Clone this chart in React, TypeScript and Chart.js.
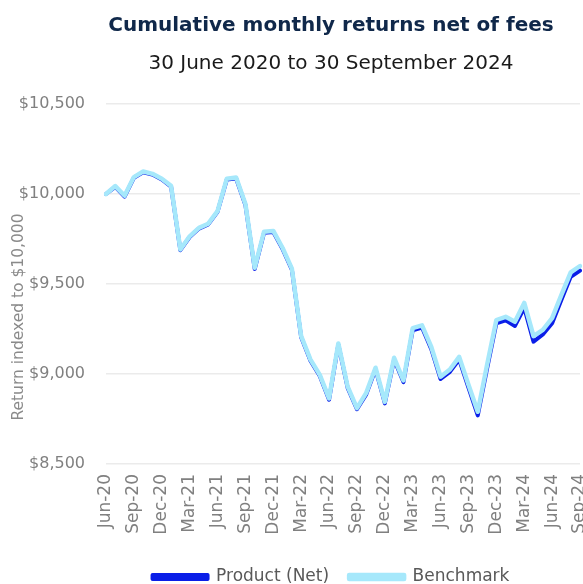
import React, { useEffect, useRef } from 'react';
import { Chart, registerables } from 'chart.js';

Chart.register(...registerables);

const months = [
  'Jun-20', 'Jul-20', 'Aug-20', 'Sep-20', 'Oct-20', 'Nov-20', 'Dec-20',
  'Jan-21', 'Feb-21', 'Mar-21', 'Apr-21', 'May-21', 'Jun-21', 'Jul-21', 'Aug-21', 'Sep-21', 'Oct-21', 'Nov-21', 'Dec-21',
  'Jan-22', 'Feb-22', 'Mar-22', 'Apr-22', 'May-22', 'Jun-22', 'Jul-22', 'Aug-22', 'Sep-22', 'Oct-22', 'Nov-22', 'Dec-22',
  'Jan-23', 'Feb-23', 'Mar-23', 'Apr-23', 'May-23', 'Jun-23', 'Jul-23', 'Aug-23', 'Sep-23', 'Oct-23', 'Nov-23', 'Dec-23',
  'Jan-24', 'Feb-24', 'Mar-24', 'Apr-24', 'May-24', 'Jun-24', 'Jul-24', 'Aug-24', 'Sep-24',
];

const productNet = [
  10000, 10040, 9986, 10090, 10121, 10108, 10081,
  10041, 9688, 9761, 9808, 9831, 9901, 10080, 10086, 9939, 9584, 9784, 9789,
  9694, 9579, 9204, 9074, 8989, 8857, 9163, 8923, 8804, 8887, 9026, 8837,
  9080, 8955, 9243, 9258, 9138, 8972, 9012, 9080, 8925, 8770, 9030, 9282,
  9298, 9267, 9368, 9180, 9220, 9282, 9412, 9540, 9575,
];

const benchmark = [
  10000, 10044, 9990, 10094, 10125, 10112, 10085,
  10045, 9692, 9765, 9812, 9835, 9905, 10085, 10092, 9945, 9590, 9790, 9795,
  9700, 9585, 9210, 9080, 8995, 8865, 9170, 8930, 8810, 8895, 9035, 8845,
  9090, 8965, 9255, 9270, 9150, 8985, 9025, 9095, 8940, 8790, 9050, 9300,
  9318, 9290, 9395, 9210, 9245, 9310, 9440, 9565, 9600,
];

const yMin = 8500;
const yMax = 10500;
const yStep = 500;

const FONT = "'DejaVu Sans', sans-serif";

const yAxisTitle = {
  id: 'yAxisTitle',
  afterDraw(chart: any) {
    const { ctx, chartArea } = chart;
    ctx.save();
    ctx.translate(19, (chartArea.top + chartArea.bottom) / 2 + 33);
    ctx.rotate(-Math.PI / 2);
    ctx.font = `15.5px ${FONT}`;
    ctx.fillStyle = '#8a8a8a';
    ctx.textAlign = 'center';
    ctx.textBaseline = 'middle';
    ctx.fillText('Return indexed to $10,000', 0, 0);
    ctx.restore();
  },
};

export default function App() {
  const ref = useRef<HTMLCanvasElement | null>(null);

  useEffect(() => {
    if (!ref.current) return;
    const chart = new Chart(ref.current, {
      type: 'line',
      data: {
        labels: months,
        datasets: [
          {
            label: 'Product (Net)',
            data: productNet,
            borderColor: '#0a1ee8',
            backgroundColor: '#0a1ee8',
            borderWidth: 4,
            borderJoinStyle: 'round',
            borderCapStyle: 'round',
            pointRadius: 0,
            tension: 0,
            order: 1,
          },
          {
            label: 'Benchmark',
            data: benchmark,
            borderColor: '#a6e8fb',
            backgroundColor: '#a6e8fb',
            borderWidth: 4.5,
            borderJoinStyle: 'round',
            borderCapStyle: 'round',
            pointRadius: 0,
            tension: 0,
            order: 0,
          },
        ],
      },
      options: {
        animation: false,
        responsive: true,
        maintainAspectRatio: false,
        layout: { padding: { left: 0, right: 0, top: 0, bottom: 4.5 } },
        plugins: {
          title: {
            display: true,
            text: 'Cumulative monthly returns net of fees',
            color: '#10284a',
            font: { family: FONT, size: 20, weight: 'bold' },
            padding: { top: 14, bottom: 8 },
          },
          subtitle: {
            display: true,
            text: '30 June 2020 to 30 September 2024',
            color: '#1a1a1a',
            font: { family: FONT, size: 20 },
            padding: { top: 6, bottom: 28 },
          },
          legend: {
            position: 'bottom',
            labels: {
              boxWidth: 55,
              boxHeight: 4,
              padding: 20,
              color: '#595959',
              font: { family: FONT, size: 17 },
              sort: (a: any, b: any) => a.datasetIndex - b.datasetIndex,
            },
          },
          tooltip: { enabled: false },
        },
        scales: {
          x: {
            grid: { display: false, drawTicks: false },
            border: { display: false },
            ticks: {
              autoSkip: false,
              maxRotation: 90,
              minRotation: 90,
              padding: 10,
              color: '#808080',
              font: { family: FONT, size: 17 },
              callback: (_v: any, i: number) => (i % 3 === 0 ? months[i] : null),
            },
            afterFit: (scale: any) => {
              scale.height = 84.5;
            },
          },
          y: {
            min: yMin,
            max: yMax,
            grid: { color: '#ebebeb', lineWidth: 1.5, drawTicks: false },
            border: { display: false },
            ticks: {
              stepSize: yStep,
              padding: 21,
              color: '#808080',
              font: { family: FONT, size: 16 },
              callback: (v: any) => '$' + Number(v).toLocaleString('en-US'),
            },
            afterFit: (scale: any) => {
              scale.width = 106;
            },
          },
          spacer: {
            type: 'linear',
            position: 'right',
            display: true,
            grid: { display: false, drawTicks: false },
            border: { display: false },
            ticks: { display: false },
            afterFit: (scale: any) => {
              scale.width = 82;
            },
          },
        },
      },
      plugins: [yAxisTitle],
    });
    return () => chart.destroy();
  }, []);

  return (
    <div style={{ position: 'absolute', left: 0, top: 0, width: 583, height: 584, overflow: 'hidden', background: '#fff' }}>
      <div style={{ position: 'absolute', left: 0, top: 0, width: 662, height: 600 }}>
        <canvas ref={ref} />
      </div>
    </div>
  );
}
